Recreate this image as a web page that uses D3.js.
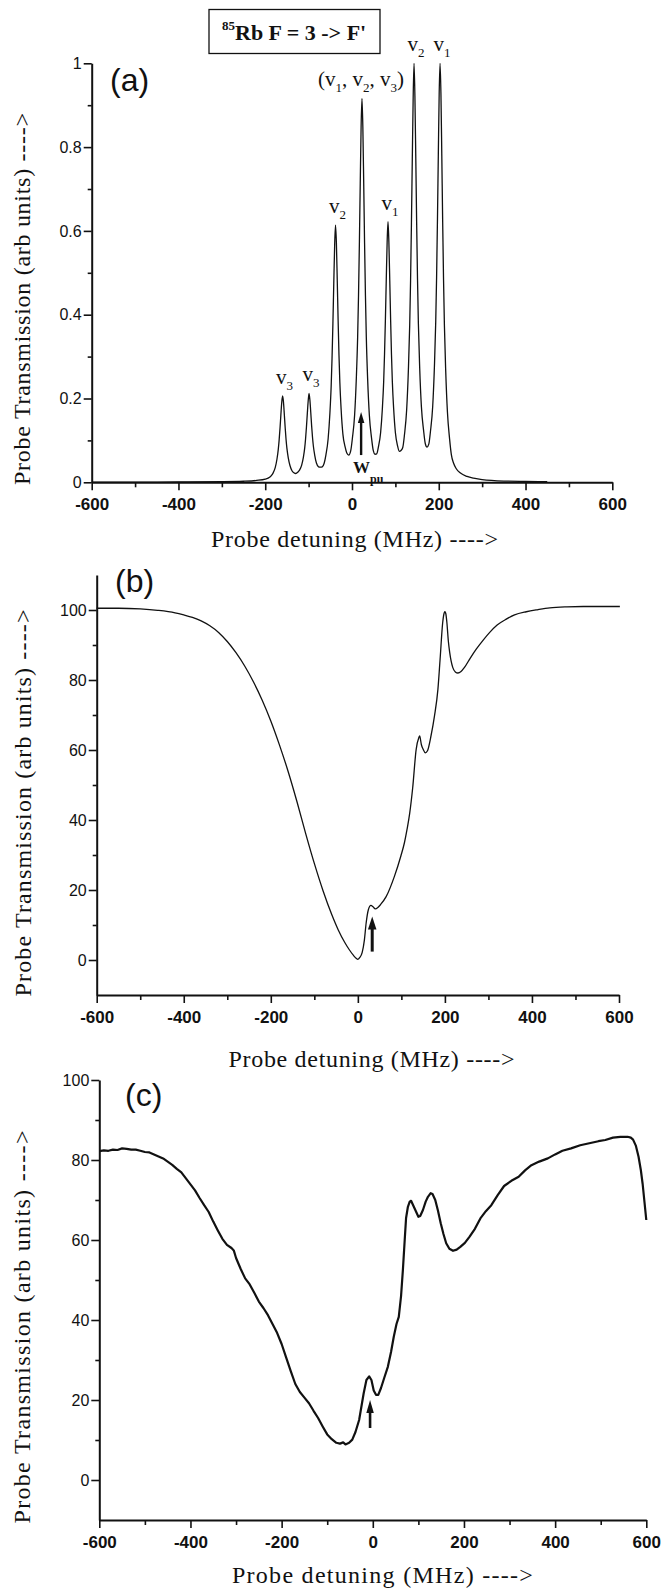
<!DOCTYPE html>
<html>
<head>
<meta charset="utf-8">
<script src="https://cdn.jsdelivr.net/npm/d3@7"></script>
<style>
  body { margin: 0; background: #fff; }
  svg { display: block; }
</style>
</head>
<body>
<div id="chart"></div>
<script>
// ---- values ----

// shared x axis (probe detuning, MHz)
const xTickValues = [-600, -400, -200, 0, 200, 400, 600];
const xMinorTicks = [-500, -300, -100, 100, 300, 500];

// (a) calculated spectrum, [detuning, transmission]
const spectrumA = [
  [-600,0.0003],[-500,0.0005],[-400,0.0008],[-300,0.0014],[-250,0.0025],[-220,0.0045],[-200,0.0077],
  [-190,0.012],[-186,0.016],[-182,0.022],[-177,0.035],[-173,0.055],[-170,0.078],[-168,0.100],[-166,0.128],
  [-164,0.160],[-162,0.190],[-160,0.206],[-158,0.192],[-156,0.162],[-154,0.130],[-152,0.102],[-150,0.081],
  [-147,0.059],[-143,0.040],[-138,0.027],[-134,0.023],[-129.5,0.021],[-125,0.024],[-121,0.029],[-116,0.041],
  [-112,0.060],[-109,0.082],[-107,0.104],[-105,0.132],[-103,0.164],[-101,0.194],[-99,0.212],[-97,0.196],
  [-95,0.166],[-93,0.134],[-91,0.107],[-89,0.086],[-86,0.065],[-82,0.046],[-77,0.037],[-73,0.036],
  [-68.5,0.037],[-64,0.046],[-60,0.066],[-55,0.104],[-51,0.164],[-48,0.230],[-46,0.296],[-44,0.379],
  [-42,0.475],[-40,0.565],[-38,0.614],[-36,0.572],[-34,0.482],[-32,0.387],[-30,0.303],[-28,0.238],
  [-25,0.173],[-21,0.115],[-16,0.085],[-12,0.070],[-7.5,0.065],[-3,0.075],[1,0.106],[6,0.160],
  [10,0.249],[13,0.346],[15,0.444],[17,0.569],[19,0.713],[21,0.848],[23,0.916],[25,0.848],[27,0.714],
  [29,0.570],[31,0.445],[33,0.346],[36,0.248],[40,0.160],[45,0.106],[49,0.076],[53,0.067],[57,0.068],
  [61,0.085],[66,0.119],[70,0.176],[73,0.240],[75,0.306],[77,0.389],[79,0.484],[81,0.573],[83,0.622],
  [85,0.573],[87,0.484],[89,0.389],[91,0.305],[93,0.240],[96,0.176],[100,0.119],[105,0.087],[109,0.074],
  [113,0.076],[117,0.083],[121,0.114],[126,0.173],[130,0.269],[133,0.375],[135,0.481],[137,0.617],
  [139,0.772],[141,0.918],[143,1.0],[145,0.922],[147,0.777],[149,0.621],[151,0.485],[153,0.379],
  [156,0.274],[160,0.180],[165,0.124],[169,0.092],[173,0.084],[177,0.091],[181,0.123],[186,0.181],
  [190,0.277],[193,0.383],[195,0.490],[197,0.628],[199,0.784],[201,0.931],[203,1.0],[205,0.928],
  [207,0.780],[209,0.622],[211,0.484],[213,0.375],[216,0.266],[220,0.167],[225,0.103],[229,0.066],
  [234,0.046],[240,0.033],[250,0.022],[265,0.014],[280,0.0097],[300,0.0066],[350,0.003],[400,0.002],
  [450,0.0014]
];

// (a) peak labels: position of each peak and its velocity-group subscript
const peakMHz = [-160, -99, -38, 23, 83, 143, 203];
const peakHeight = [0.206, 0.212, 0.614, 0.916, 0.622, 1.0, 1.0];
const peakSub = ['3', '3', '2', null, '1', '2', '1'];
const groupSubs = ['1', '2', '3']; // the (v1, v2, v3) peak

// (b) calculated spectrum with Doppler background
const spectrumB = [
  [-600,100.5],[-550,100.5],[-500,100.3],[-460,99.9],[-420,99.2],[-400,98.6],[-380,97.9],[-360,96.9],
  [-340,95.5],[-320,93.6],[-300,91.0],[-280,87.8],[-260,84.0],[-240,79.5],[-220,74.3],[-200,68.3],
  [-180,61.4],[-160,53.8],[-140,45.3],[-120,36.2],[-100,27.6],[-80,19.8],[-60,13.0],[-45,8.6],
  [-30,5.0],[-20,3.0],[-10,1.3],[-4,0.5],[0,0.2],[5,0.8],[10,2.2],[15,5.7],[19,10.5],[24,14.3],
  [30,15.6],[35,15.2],[40,14.6],[46,15.0],[52,15.8],[65,18.1],[84,23.9],[99,29.8],[107,33.5],
  [113,37.3],[119,41.8],[126,49.2],[134,60.2],[140,63.5],[142,64.0],[146,61.5],[150,60.2],[155,59.2],
  [160,59.8],[168,64.0],[176,69.7],[184,77.4],[189,86.0],[195,96.5],[198,99.0],[200,99.5],[202,99.0],
  [204.5,96.5],[208,91.0],[211,87.9],[218,83.6],[224,82.3],[230,82.0],[237,82.4],[245,83.6],[258,86.2],
  [272,88.8],[288,91.4],[303,93.6],[320,95.7],[341,97.4],[360,98.6],[387,99.5],[414,100.1],[441,100.6],
  [480,100.9],[518,101.0],[560,101.0],[602,101.0]
];

// (c) measured spectrum
const spectrumC = [
  [-600,82.2],[-590,82.4],[-580,82.3],[-570,82.6],[-560,82.5],[-550,82.9],[-540,82.8],[-530,82.6],
  [-520,82.6],[-510,82.3],[-500,82.0],[-490,81.9],[-480,81.4],[-470,80.9],[-460,80.4],[-450,79.6],
  [-440,78.8],[-430,77.8],[-420,76.9],[-410,75.4],[-400,73.9],[-390,72.4],[-380,70.5],[-370,68.7],
  [-360,67.0],[-350,64.6],[-340,62.4],[-330,60.3],[-320,58.8],[-310,58.0],[-305,57.4],[-300,55.5],
  [-290,52.8],[-280,50.4],[-270,48.9],[-260,46.8],[-250,44.6],[-240,43.0],[-230,41.2],[-220,39.0],
  [-210,36.8],[-200,34.0],[-190,30.6],[-180,27.2],[-170,24.0],[-160,22.0],[-150,20.6],[-140,19.2],
  [-130,17.3],[-120,15.5],[-110,13.4],[-100,11.4],[-90,10.2],[-80,9.3],[-72,9.1],[-65,9.4],[-60,8.9],
  [-52,9.3],[-45,10.1],[-38,12.0],[-30,15.0],[-20,21.7],[-14,25.0],[-8,25.9],[-3,25.0],[2,22.4],
  [7,21.3],[12,21.3],[18,23.0],[25,25.5],[33,28.3],[40,32.0],[46,35.8],[52,39.0],[57,40.8],[62,46.0],
  [66,52.5],[70,60.0],[73,65.5],[77,68.3],[81,69.6],[84,69.8],[88,68.8],[94,67.3],[100,65.8],
  [104,66.0],[110,67.5],[116,69.6],[121,70.8],[127,71.7],[131,71.5],[137,70.0],[143,67.3],[149,64.2],
  [155,61.5],[161,59.2],[168,57.8],[176,57.3],[184,57.6],[192,58.3],[202,59.3],[212,60.8],[224,62.8],
  [236,65.4],[248,67.2],[260,68.7],[274,71.2],[288,73.5],[304,74.8],[320,75.8],[334,77.4],[348,78.7],
  [365,79.6],[384,80.4],[400,81.4],[416,82.3],[435,82.9],[455,83.7],[475,84.2],[495,84.7],[510,85.0],
  [527,85.6],[543,85.8],[559,85.8],[566,85.6],[571,85.1],[577,83.6],[583,80.8],[588,77.5],[592,74.0],
  [596,69.5],[600,65.0]
];

// y ticks
const yTicksA = [0, 0.2, 0.4, 0.6, 0.8, 1];
const yMinorA = [0.1, 0.3, 0.5, 0.7, 0.9];
const yTicksBC = [0, 20, 40, 60, 80, 100];
const yMinorBC = [10, 30, 50, 70, 90];

// pump arrows (a, b, c): detuning, tail value, tip value
const pumpArrowMHz = [21, 33, -6];
const pumpArrowFrom = [0.065, 2.4, 13];
const pumpArrowTo = [0.168, 12.4, 20];

// ---- layout ----
const W = 666, H = 1591;
const SANS = "'Liberation Sans', Arial, sans-serif";
const SERIF = "'Liberation Serif', 'Times New Roman', serif";

const svg = d3.select('#chart').append('svg')
  .attr('width', W)
  .attr('height', H)
  .style('background', '#fff');

const panels = [
  { tag: '(a)', data: spectrumA, x0: 91.7, x1: 612.3, y0: 482.3, y1: 63.3, yDomain: [0, 1],
    yTicks: yTicksA, yMinor: yMinorA, stroke: 1.3, curve: d3.curveMonotoneX,
    tagX: 110, tagY: 91, xtX: 354.5, xtY: 547, xtLen: 287, ytX: 30, ytY: 299, ytLen: 372,
    arrow: { w: 2.4, head: 6.5, len: 11 } },
  { tag: '(b)', data: spectrumB, x0: 96.7, x1: 619, y0: 995, y1: 575, yDomain: [-10, 110],
    yTicks: yTicksBC, yMinor: yMinorBC, stroke: 1.3, curve: d3.curveMonotoneX,
    tagX: 115, tagY: 592, xtX: 371.5, xtY: 1067, xtLen: 286, ytX: 31, ytY: 803, ytLen: 387,
    arrow: { w: 3, head: 8.5, len: 13 } },
  { tag: '(c)', data: spectrumC, x0: 99.3, x1: 646.3, y0: 1520, y1: 1080, yDomain: [-10, 100],
    yTicks: yTicksBC, yMinor: yMinorBC, stroke: 2.2, curve: d3.curveLinear,
    tagX: 125, tagY: 1106, xtX: 382.4, xtY: 1583, xtLen: 301, ytX: 30, ytY: 1327, ytLen: 393,
    arrow: { w: 2.6, head: 7.5, len: 13 } }
];

// plain hyphen for negatives, like the original
const fmt = d3.format('~g');
const tickText = d => fmt(d).replace('\u2212', '-');

panels.forEach((p, i) => {
  const x = d3.scaleLinear().domain([-600, 600]).range([p.x0, p.x1]);
  const y = d3.scaleLinear().domain(p.yDomain).range([p.y0, p.y1]);
  const g = svg.append('g').attr('class', 'panel');

  // x axis, major then minor ticks
  const gx = g.append('g')
    .attr('transform', `translate(0,${p.y0})`)
    .call(d3.axisBottom(x).tickValues(xTickValues).tickSize(8).tickPadding(8).tickSizeOuter(0)
      .tickFormat(tickText));
  gx.append('g')
    .call(d3.axisBottom(x).tickValues(xMinorTicks).tickSize(5).tickFormat(''))
    .select('.domain').remove();
  gx.selectAll('text')
    .attr('font-family', SANS).attr('font-size', 17).attr('font-weight', 'bold').attr('fill', '#111');

  // y axis
  const gy = g.append('g')
    .attr('transform', `translate(${p.x0},0)`)
    .call(d3.axisLeft(y).tickValues(p.yTicks).tickSize(8).tickPadding(2).tickSizeOuter(0)
      .tickFormat(tickText));
  gy.append('g')
    .call(d3.axisLeft(y).tickValues(p.yMinor).tickSize(4).tickFormat(''))
    .select('.domain').remove();
  gy.selectAll('text')
    .attr('font-family', SANS).attr('font-size', 16).attr('fill', '#111');

  g.selectAll('.domain').attr('stroke', '#111').attr('stroke-width', 2);
  g.selectAll('.tick line').attr('stroke', '#111').attr('stroke-width', 1.6);

  // spectrum
  const line = d3.line()
    .x(d => x(d[0]))
    .y(d => y(d[1]))
    .curve(p.curve);
  g.append('path')
    .datum(p.data)
    .attr('fill', 'none')
    .attr('stroke', '#111')
    .attr('stroke-width', p.stroke)
    .attr('stroke-linejoin', 'round')
    .attr('d', line);

  // pump arrow
  const ax = x(pumpArrowMHz[i]);
  const tail = y(pumpArrowFrom[i]);
  const tip = y(pumpArrowTo[i]);
  g.append('line')
    .attr('x1', ax).attr('x2', ax)
    .attr('y1', tail).attr('y2', tip + p.arrow.len * 0.7)
    .attr('stroke', '#111').attr('stroke-width', p.arrow.w);
  g.append('path')
    .attr('d', `M${ax},${tip}L${ax - p.arrow.head / 2},${tip + p.arrow.len}L${ax + p.arrow.head / 2},${tip + p.arrow.len}Z`)
    .attr('fill', '#111');

  // panel tag
  g.append('text')
    .attr('x', p.tagX).attr('y', p.tagY)
    .attr('font-family', SANS).attr('font-size', 32).attr('fill', '#111')
    .text(p.tag);

  // axis titles
  g.append('text')
    .attr('x', p.xtX).attr('y', p.xtY)
    .attr('text-anchor', 'middle')
    .attr('font-family', SERIF).attr('font-size', 24).attr('fill', '#111')
    .attr('textLength', p.xtLen).attr('lengthAdjust', 'spacing')
    .text('Probe detuning (MHz) ---->');

  g.append('text')
    .attr('transform', `translate(${p.ytX},${p.ytY}) rotate(-90)`)
    .attr('text-anchor', 'middle')
    .attr('font-family', SERIF).attr('font-size', 24).attr('fill', '#111')
    .attr('textLength', p.ytLen).attr('lengthAdjust', 'spacing')
    .text('Probe Transmission (arb units) ---->');

  if (i === 0) annotateA(g, x, y);
});

// labels that only panel (a) carries
function annotateA(g, x, y) {
  // title box
  const box = g.append('g');
  box.append('rect')
    .attr('x', 209).attr('y', 9.5).attr('width', 171).attr('height', 44)
    .attr('fill', 'none').attr('stroke', '#111').attr('stroke-width', 1.3);
  const title = box.append('text')
    .attr('x', 222).attr('y', 40)
    .attr('font-family', SERIF).attr('font-weight', 'bold').attr('fill', '#111');
  title.append('tspan').attr('font-size', 13).attr('dy', -10).text('85');
  title.append('tspan').attr('font-size', 22).attr('dy', 10).text("Rb F = 3 -> F'");

  // single velocity-group labels
  peakMHz.forEach((m, k) => {
    if (!peakSub[k]) return;
    const t = g.append('text')
      .attr('x', x(m) - 6.5)
      .attr('y', y(peakHeight[k]) - 12)
      .attr('font-family', SERIF).attr('fill', '#111');
    t.append('tspan').attr('font-size', 21).text('v');
    t.append('tspan').attr('font-size', 13).attr('dy', 6).text(peakSub[k]);
  });

  // the shared (v1, v2, v3) peak
  const k = peakSub.indexOf(null);
  const grp = g.append('text')
    .attr('x', x(peakMHz[k]) - 1)
    .attr('y', y(peakHeight[k]) - 12)
    .attr('text-anchor', 'middle')
    .attr('font-family', SERIF).attr('fill', '#111');
  groupSubs.forEach((s, j) => {
    grp.append('tspan').attr('font-size', 21).attr('dy', j ? -6 : 0).text(j ? ', v' : '(v');
    grp.append('tspan').attr('font-size', 13).attr('dy', 6).text(s);
  });
  grp.append('tspan').attr('font-size', 21).attr('dy', -6).text(')');

  // pump label under the arrow
  const w = g.append('text')
    .attr('x', x(pumpArrowMHz[0]) - 8)
    .attr('y', y(0) - 9.5)
    .attr('font-family', SERIF).attr('font-weight', 'bold').attr('fill', '#111');
  w.append('tspan').attr('font-size', 17).text('W');
  w.append('tspan').attr('font-size', 12).attr('dy', 10).text('pu');
}
</script>
</body>
</html>
